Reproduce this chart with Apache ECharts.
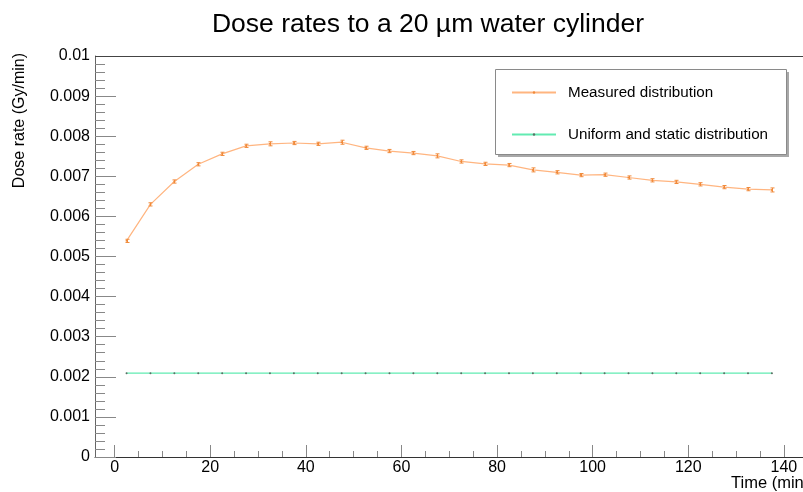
<!DOCTYPE html>
<html>
<head>
<meta charset="utf-8">
<title>Dose rates to a 20 µm water cylinder</title>
<script src="https://cdn.jsdelivr.net/npm/echarts@6/dist/echarts.min.js"></script>
<style>
  html, body { margin: 0; padding: 0; background: #fff; }
  #chart { width: 803px; height: 492px; }
</style>
</head>
<body>
<div id="chart"></div>
<script>
// Time bin centres (min)
const times = [2.5, 7.5, 12.5, 17.5, 22.5, 27.5, 32.5, 37.5, 42.5, 47.5,
               52.5, 57.5, 62.5, 67.5, 72.5, 77.5, 82.5, 87.5, 92.5, 97.5,
               102.5, 107.5, 112.5, 117.5, 122.5, 127.5, 132.5, 137.5];

// Dose rate from the measured activity distribution (Gy/min)
const measured = [0.00539, 0.00630, 0.00687, 0.00730, 0.00756, 0.00776, 0.00781, 0.00783, 0.00781, 0.00785,
                  0.00771, 0.00763, 0.00758, 0.00751, 0.00737, 0.00731, 0.00728, 0.00716, 0.00710, 0.00703,
                  0.00704, 0.00697, 0.00690, 0.00686, 0.00680, 0.00673, 0.00668, 0.00666];

// Statistical uncertainty on the measured dose rate (Gy/min)
const measuredErr = [0.00004, 0.00004, 0.00004, 0.00004, 0.00004, 0.00004, 0.00005, 0.00004, 0.00004, 0.00005,
                     0.00004, 0.00004, 0.00004, 0.00005, 0.00004, 0.00004, 0.00004, 0.00005, 0.00004, 0.00004,
                     0.00004, 0.00004, 0.00004, 0.00004, 0.00004, 0.00004, 0.00004, 0.00005];

// Dose rate for a uniform, time-independent distribution (Gy/min)
const uniform = [0.00209, 0.00209, 0.00209, 0.00209, 0.00209, 0.00209, 0.00209, 0.00209, 0.00209, 0.00209,
                 0.00209, 0.00209, 0.00209, 0.00209, 0.00209, 0.00209, 0.00209, 0.00209, 0.00209, 0.00209,
                 0.00209, 0.00209, 0.00209, 0.00209, 0.00209, 0.00209, 0.00209, 0.00209];

// Axis ticks
const xMajorTicks = [0, 20, 40, 60, 80, 100, 120, 140];
const xMinorTicks = [5, 10, 15, 25, 30, 35, 45, 50, 55, 65, 70, 75, 85, 90, 95,
                     105, 110, 115, 125, 130, 135];

const FONT = '"Liberation Sans", Arial, Helvetica, sans-serif';
const ORANGE = '#ffb580';
const ORANGE_DARK = '#f08a3a';
const GREEN = '#62ebb2';

const chart = echarts.init(document.getElementById('chart'), null, { renderer: 'canvas' });

const xRange = { min: -4.1, max: 144 };

const option = {
  animation: false,
  backgroundColor: '#ffffff',
  textStyle: { fontFamily: FONT },
  title: {
    text: 'Dose rates to a 20 µm water cylinder',
    left: 423,
    textAlign: 'center',
    top: 6,
    textStyle: { fontFamily: FONT, fontSize: 26.5, fontWeight: 'normal', color: '#000' }
  },
  grid: {
    left: 95,
    top: 56,
    width: 710,
    height: 401,
    show: false
  },
  legend: {
    orient: 'vertical',
    left: 506,
    top: 80,
    itemWidth: 44,
    itemHeight: 3,
    itemGap: 27,
    selectedMode: false,
    data: ['Measured distribution', 'Uniform and static distribution'],
    textStyle: {
      fontFamily: FONT,
      fontSize: 15.2,
      lineHeight: 15,
      color: '#000',
      padding: [0, 0, 0, 7]
    },
    z: 10
  },
  graphic: [
    {
      // upper frame edge
      type: 'line',
      z: 20,
      shape: { x1: 95, y1: 56.5, x2: 803, y2: 56.5 },
      style: { stroke: '#444', lineWidth: 1 }
    },
    {
      type: 'rect',
      z: 5,
      shape: { x: 498, y: 72, width: 291, height: 85 },
      style: { fill: '#a8a8a8' }
    },
    {
      type: 'rect',
      z: 6,
      shape: { x: 495.5, y: 69.5, width: 291, height: 85 },
      style: { fill: '#ffffff', stroke: '#8a8a8a', lineWidth: 1 }
    },
    {
      type: 'text',
      x: 20,
      y: 53,
      rotation: Math.PI / 2,
      style: {
        text: 'Dose rate (Gy/min)',
        fill: '#000',
        font: '16px ' + FONT,
        textAlign: 'right',
        textVerticalAlign: 'middle'
      }
    },
    {
      type: 'text',
      x: 731,
      y: 483,
      style: {
        text: 'Time (min)',
        fill: '#000',
        font: '16.5px ' + FONT,
        textAlign: 'left',
        textVerticalAlign: 'middle'
      }
    }
  ],
  xAxis: [
    {
      type: 'value',
      min: xRange.min,
      max: xRange.max,
      axisLine: { show: true, onZero: false, lineStyle: { color: '#333', width: 1 } },
      axisTick: {
        show: true,
        inside: true,
        length: 12,
        customValues: xMajorTicks,
        lineStyle: { color: '#888' }
      },
      axisLabel: {
        show: true,
        customValues: xMajorTicks,
        margin: 3,
        fontFamily: FONT,
        fontSize: 16,
        color: '#000'
      },
      splitLine: { show: false }
    },
    {
      type: 'value',
      min: xRange.min,
      max: xRange.max,
      position: 'bottom',
      axisLine: { show: false, onZero: false },
      axisTick: {
        show: true,
        inside: true,
        length: 6,
        customValues: xMinorTicks,
        lineStyle: { color: '#888' }
      },
      axisLabel: { show: false },
      splitLine: { show: false }
    }
  ],
  yAxis: {
    type: 'value',
    min: 0,
    max: 0.01,
    interval: 0.001,
    axisLine: { show: true, onZero: false, lineStyle: { color: '#666', width: 1 } },
    axisTick: { show: true, inside: true, length: 21, lineStyle: { color: '#888' } },
    minorTick: { show: true, splitNumber: 5, length: 10, lineStyle: { color: '#888' } },
    axisLabel: {
      margin: 5,
      fontFamily: FONT,
      fontSize: 16,
      color: '#000',
      formatter: function (v) { return String(parseFloat(v.toFixed(4))); }
    },
    splitLine: { show: false }
  },
  series: [
    {
      name: 'Measured distribution',
      type: 'line',
      xAxisIndex: 0,
      data: times.map(function (t, i) { return [t, measured[i]]; }),
      showSymbol: true,
      symbol: 'circle',
      symbolSize: 2,
      lineStyle: { color: ORANGE, width: 1.2 },
      itemStyle: { color: ORANGE_DARK },
      z: 3
    },
    {
      name: 'Measured distribution errors',
      type: 'custom',
      xAxisIndex: 0,
      data: times.map(function (t, i) { return [t, measured[i], measuredErr[i]]; }),
      renderItem: function (params, api) {
        const x = api.value(0);
        const y = api.value(1);
        const e = api.value(2);
        const lo = api.coord([x, y - e]);
        const hi = api.coord([x, y + e]);
        const cx = Math.round(lo[0]) + 0.5;
        const style = { stroke: ORANGE_DARK, lineWidth: 1 };
        return {
          type: 'group',
          children: [
            { type: 'line', shape: { x1: cx, y1: lo[1], x2: cx, y2: hi[1] }, style: style },
            { type: 'line', shape: { x1: cx - 2, y1: lo[1], x2: cx + 2, y2: lo[1] }, style: style },
            { type: 'line', shape: { x1: cx - 2, y1: hi[1], x2: cx + 2, y2: hi[1] }, style: style }
          ]
        };
      },
      z: 4
    },
    {
      name: 'Uniform and static distribution',
      type: 'line',
      xAxisIndex: 0,
      data: times.map(function (t, i) { return [t, uniform[i]]; }),
      showSymbol: true,
      symbol: 'circle',
      symbolSize: 2,
      lineStyle: { color: GREEN, width: 1.2 },
      itemStyle: { color: '#5a6e64' },
      z: 3
    }
  ]
};

chart.setOption(option);
</script>
</body>
</html>
